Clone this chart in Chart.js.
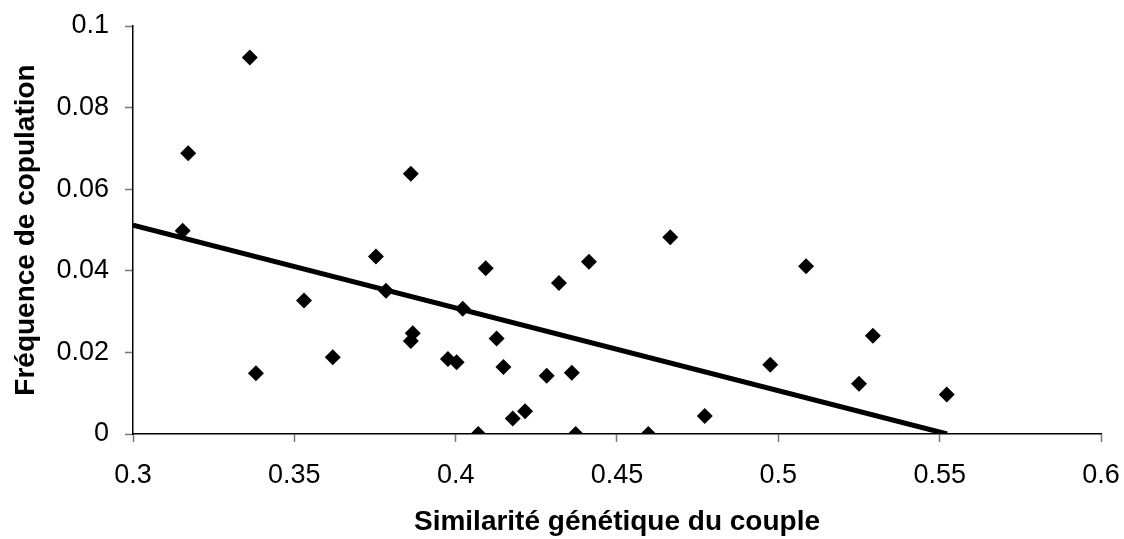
<!DOCTYPE html>
<html>
<head>
<meta charset="utf-8">
<script src="https://cdn.jsdelivr.net/npm/chart.js@4/dist/chart.umd.min.js"></script>
<style>
  body { margin: 0; background: #fff; }
  #myChart { display: block; }
</style>
</head>
<body>
<canvas id="myChart" width="1124" height="539"></canvas>
<script>
// similarite genetique du couple (x) et frequence de copulation (y)
var similarite = [0.3154, 0.3171, 0.3362, 0.3381, 0.3530, 0.3619, 0.3753, 0.3784, 0.3861, 0.3867, 0.3861,
    0.3976, 0.4003, 0.4022, 0.4070, 0.4093, 0.4127, 0.4148, 0.4177, 0.4215, 0.4282, 0.4320,
    0.4360, 0.4372, 0.4413, 0.4597, 0.4665, 0.4772, 0.4975, 0.5086, 0.5250, 0.5293, 0.5522];
var frequence = [0.0498, 0.0688, 0.0923, 0.0149, 0.0327, 0.0188, 0.0435, 0.0351, 0.0638, 0.0247, 0.0228,
    0.0184, 0.0176, 0.0307, 0.0000, 0.0406, 0.0234, 0.0164, 0.0038, 0.0056, 0.0143, 0.0370,
    0.0150, 0.0000, 0.0422, 0.0000, 0.0482, 0.0044, 0.0170, 0.0411, 0.0123, 0.0241, 0.0097];
// droite de tendance (deux extremites)
var tendance_x = [0.3, 0.5523];
var tendance_y = [0.0512, 0];

var x_ticks = ['0.3', '0.35', '0.4', '0.45', '0.5', '0.55', '0.6'];
var y_ticks = ['0', '0.02', '0.04', '0.06', '0.08', '0.1'];

var points = similarite.map(function(x, i) { return { x: x, y: frequence[i] }; });
var ligne = tendance_x.map(function(x, i) { return { x: x, y: tendance_y[i] }; });

var ctx = document.getElementById('myChart');
var myChart = new Chart(ctx, {
    type: 'scatter',
    data: {
        datasets: [{
            data: points,
            pointStyle: 'rectRot',
            pointRadius: 8,
            pointBackgroundColor: '#000',
            pointBorderColor: '#000',
            pointBorderWidth: 0,
            order: 2
        }, {
            type: 'line',
            data: ligne,
            borderColor: '#000',
            borderWidth: 5,
            pointRadius: 0,
            fill: false,
            order: 1
        }]
    },
    options: {
        responsive: false,
        animation: false,
        layout: { padding: { left: 0, right: 23, top: 26, bottom: 0 } },
        plugins: { legend: { display: false }, tooltip: { enabled: false } },
        scales: {
            x: {
                type: 'linear',
                min: 0.3,
                max: 0.6,
                afterFit: function(scale) {
                    scale.height = 105;
                    scale.paddingLeft = 0;
                    scale.paddingRight = 0;
                },
                ticks: {
                    stepSize: 0.05,
                    color: '#000',
                    padding: 17,
                    font: { family: 'Liberation Sans, Arial', size: 27 },
                    callback: function(v, i) { return x_ticks[i]; }
                },
                grid: { drawOnChartArea: false, tickLength: 8, tickColor: '#777', tickWidth: 1.5 },
                border: { color: '#000', width: 1.5 },
                title: {
                    display: true,
                    text: 'Similarité génétique du couple',
                    color: '#000',
                    padding: { top: 0, bottom: 0 },
                    font: { family: 'Liberation Sans, Arial', size: 28, weight: 'bold' }
                }
            },
            y: {
                type: 'linear',
                min: 0,
                max: 0.1,
                afterFit: function(scale) {
                    scale.width = 133;
                    scale.paddingTop = 0;
                    scale.paddingBottom = 0;
                },
                ticks: {
                    stepSize: 0.02,
                    color: '#000',
                    padding: 16,
                    font: { family: 'Liberation Sans, Arial', size: 27 },
                    callback: function(v, i) { return y_ticks[i]; }
                },
                grid: { drawOnChartArea: false, tickLength: 8, tickColor: '#777', tickWidth: 1.5 },
                border: { color: '#000', width: 1.5 },
                title: {
                    display: true,
                    text: 'Fréquence de copulation',
                    color: '#000',
                    padding: { top: 9, bottom: 0 },
                    font: { family: 'Liberation Sans, Arial', size: 28, weight: 'bold' }
                }
            }
        }
    }
});
</script>
</body>
</html>
